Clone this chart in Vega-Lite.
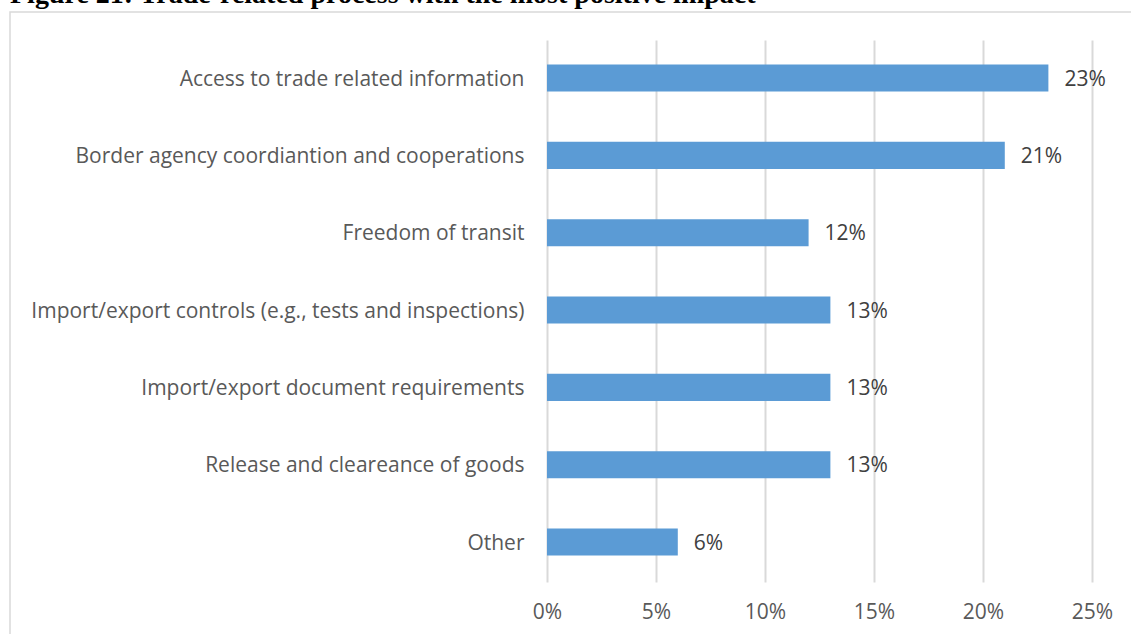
{
  "$schema": "https://vega.github.io/schema/vega-lite/v6.json",
  "autosize": {"type": "none"},
  "padding": {"left": 10, "top": 12, "right": -3, "bottom": -3},
  "width": 1124,
  "height": 625,
  "background": "white",
  "config": {
    "view": {"stroke": "#d9d9d9", "strokeWidth": 1.5},
    "font": "Open Sans"
  },
  "title": {
    "text": "Figure 21: Trade-related process with the most positive impact",
    "font": "Liberation Serif",
    "fontWeight": "bold",
    "fontSize": 28,
    "color": "#000000",
    "anchor": "start",
    "frame": "group",
    "baseline": "alphabetic",
    "offset": 6,
    "dy": 25
  },
  "data": {
    "values": [
      {"item": "Access to trade related information", "share": 0.23},
      {"item": "Border agency coordiantion and cooperations", "share": 0.21},
      {"item": "Freedom of transit", "share": 0.12},
      {"item": "Import/export controls (e.g., tests and inspections)", "share": 0.13},
      {"item": "Import/export document requirements", "share": 0.13},
      {"item": "Release and cleareance of goods", "share": 0.13},
      {"item": "Other", "share": 0.06}
    ]
  },
  "encoding": {
    "y": {
      "field": "item",
      "type": "nominal",
      "sort": null,
      "scale": {"paddingInner": 0.65, "paddingOuter": 0.866, "align": 0.392},
      "axis": {
        "title": null,
        "orient": "left",
        "offset": -537,
        "ticks": false,
        "domain": false,
        "grid": false,
        "labelPadding": 23,
        "labelOffset": 1.5,
        "labelFont": "Open Sans",
        "labelFontSize": 21,
        "labelColor": "#595959",
        "labelLimit": 1000
      }
    }
  },
  "layer": [
    {
      "mark": {"type": "bar", "color": "#5B9BD5"},
      "encoding": {
        "x": {
          "field": "share",
          "type": "quantitative",
          "scale": {"domain": [-0.24633, 0.26927], "nice": false, "zero": false},
          "axis": {
            "title": null,
            "orient": "bottom",
            "offset": -25,
            "values": [0, 0.05, 0.1, 0.15, 0.2, 0.25],
            "format": ".0%",
            "ticks": false,
            "domain": false,
            "grid": false,
            "labelPadding": 0,
            "labelBaseline": "middle",
            "labelFont": "Open Sans",
            "labelFontSize": 21,
            "labelColor": "#595959"
          }
        },
        "x2": {"datum": 0}
      }
    },
    {
      "mark": {"type": "text", "align": "left", "baseline": "middle", "dx": 16, "dy": 1.5, "font": "Open Sans", "fontSize": 21, "color": "#404040"},
      "encoding": {
        "x": {
          "field": "share",
          "type": "quantitative",
          "scale": {"domain": [-0.24633, 0.26927], "nice": false, "zero": false},
          "axis": {
            "title": null,
            "orient": "top",
            "offset": -570,
            "values": [0, 0.05, 0.1, 0.15, 0.2, 0.25],
            "ticks": true,
            "tickSize": 542,
            "tickColor": "#d9d9d9",
            "tickWidth": 2,
            "labels": false,
            "domain": false,
            "grid": false
          }
        },
        "text": {"field": "share", "type": "quantitative", "format": ".0%"}
      }
    }
  ],
  "resolve": {"scale": {"x": "independent"}, "axis": {"x": "independent"}}
}
